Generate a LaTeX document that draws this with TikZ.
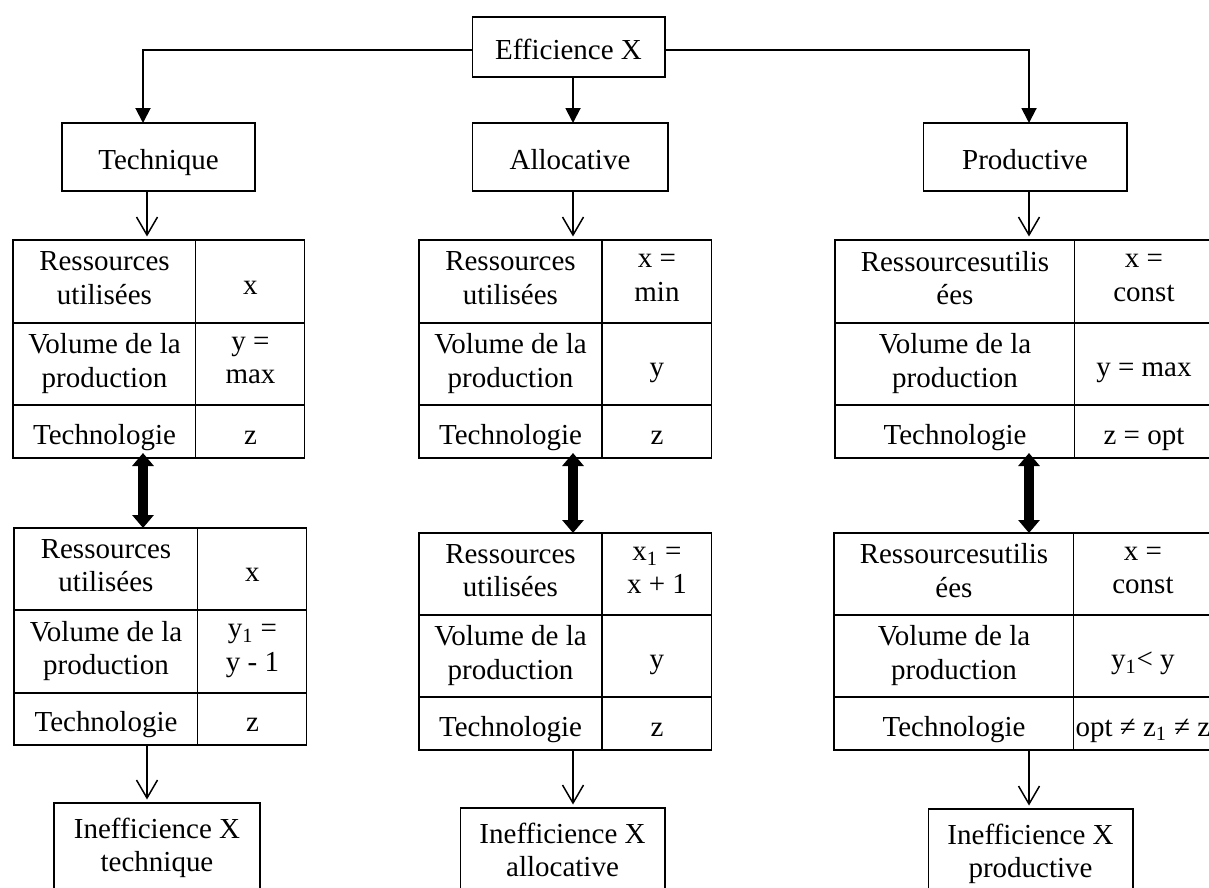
\documentclass[tikz,border=0pt]{standalone}
\usepackage{fontspec}
\setmainfont{Liberation Serif}
\usetikzlibrary{arrows.meta}

\begin{document}
\begin{tikzpicture}[x=0.02cm, y=-0.02cm,
    box/.style={draw, line width=0.6pt, inner sep=0pt, outer sep=0pt, align=center,
      font=\fontsize{16.5}{19}\selectfont,
      execute at begin node={\rule{0pt}{18.5pt}}, execute at end node={\rule[-4pt]{0pt}{4pt}}},
    cell/.style={box, anchor=north west},
    link/.style={line width=1.1pt, -{Triangle[width=0.3cm,length=0.3cm]}},
    lead/.style={line width=0.85pt, shorten >=0.07cm, -{Straight Barb[width=0.42cm,length=0.36cm]}},
    twoway/.style={line width=0.2cm, shorten <=-0.1cm,
      {Triangle[width=0.42cm,length=0.26cm]}-{Triangle[width=0.42cm,length=0.26cm]}}]

  \useasboundingbox (0,0) rectangle (1209,888);
  \clip (0,0) rectangle (1209,888);

  \node[box, minimum width=3.86cm, minimum height=1.2cm] (eff) at (568.5,47) {Efficience X};
  \node[box, minimum width=3.86cm, minimum height=1.36cm] (tech) at (158.5,157) {Technique};
  \node[box, minimum width=3.92cm, minimum height=1.36cm] (alloc) at (570,157) {Allocative};
  \node[box, minimum width=4.08cm, minimum height=1.36cm] (prod) at (1025,157) {Productive};

  % efficient tables
  \foreach \r/\y/\h/\l/\v in {1/240/83/{Ressources\\utilisées}/x, 2/323/82/{Volume de la\\production}/{y =\\max}, 3/405/53/Technologie/z}
  {
    \node[cell, minimum width=3.66cm, minimum height=\h*0.02cm] (tech-l\r) at (13,\y) {\l};
    \node[cell, minimum width=2.18cm, minimum height=\h*0.02cm] (tech-r\r) at (tech-l\r.north east) {\v};
  }
  \foreach \r/\y/\h/\l/\v in {1/240/83/{Ressources\\utilisées}/{x =\\min}, 2/323/82/{Volume de la\\production}/y, 3/405/53/Technologie/z}
  {
    \node[cell, minimum width=3.66cm, minimum height=\h*0.02cm] (alloc-l\r) at (419,\y) {\l};
    \node[cell, minimum width=2.2cm, minimum height=\h*0.02cm] (alloc-r\r) at (alloc-l\r.north east) {\v};
  }
  \foreach \r/\y/\h/\l/\v in {1/240/83/{Ressourcesutilis\\ées}/{x =\\const}, 2/323/82/{Volume de la\\production}/{y = max}, 3/405/53/Technologie/{z = opt}}
  {
    \node[cell, minimum width=4.8cm, minimum height=\h*0.02cm] (prod-l\r) at (835,\y) {\l};
    \node[cell, minimum width=2.76cm, minimum height=\h*0.02cm] (prod-r\r) at (prod-l\r.north east) {\v};
  }

  % inefficient tables
  \foreach \r/\y/\h/\l/\v in {1/528/82/{Ressources\\utilisées}/x, 2/610/83/{Volume de la\\production}/{y\textsubscript{1} =\\y - 1}, 3/693/52/Technologie/z}
  {
    \node[cell, minimum width=3.68cm, minimum height=\h*0.02cm] (tech-bl\r) at (14,\y) {\l};
    \node[cell, minimum width=2.18cm, minimum height=\h*0.02cm] (tech-br\r) at (tech-bl\r.north east) {\v};
  }
  \foreach \r/\y/\h/\l/\v in {1/533/82/{Ressources\\utilisées}/{x\textsubscript{1} =\\x + 1}, 2/615/82/{Volume de la\\production}/y, 3/697/53/Technologie/z}
  {
    \node[cell, minimum width=3.66cm, minimum height=\h*0.02cm] (alloc-bl\r) at (419,\y) {\l};
    \node[cell, minimum width=2.2cm, minimum height=\h*0.02cm] (alloc-br\r) at (alloc-bl\r.north east) {\v};
  }
  \foreach \r/\y/\h/\l/\v in {1/533/82/{Ressourcesutilis\\ées}/{x =\\const}, 2/615/82/{Volume de la\\production}/{y\textsubscript{1}< y}, 3/697/53/Technologie/{opt ≠ z\textsubscript{1} ≠ z}}
  {
    \node[cell, minimum width=4.8cm, minimum height=\h*0.02cm] (prod-bl\r) at (834,\y) {\l};
    \node[cell, minimum width=2.76cm, minimum height=\h*0.02cm] (prod-br\r) at (prod-bl\r.north east) {\v};
  }

  \node[box, anchor=north, minimum width=4.12cm, minimum height=1.8cm] (tech-x) at (157,803) {Inefficience X\\technique};
  \node[box, anchor=north, minimum width=4.1cm, minimum height=1.8cm] (alloc-x) at (562.5,808) {Inefficience X\\allocative};
  \node[box, anchor=north, minimum width=4.1cm, minimum height=1.8cm] (prod-x) at (1030.5,809) {Inefficience X\\productive};

  % column axes
  \coordinate (axA) at (143,0);
  \coordinate (axB) at (147,0);
  \coordinate (axM) at (573,0);
  \coordinate (axR) at (1029,0);

  \draw[link] ([yshift=-0.06cm]eff.west) -| (axA |- tech.north);
  \draw[link] (axM |- eff.south) -- (axM |- alloc.north);
  \draw[link] ([yshift=-0.06cm]eff.east) -| (axR |- prod.north);

  \foreach \c/\a/\b in {tech/axA/axB, alloc/axM/axM, prod/axR/axR}
  {
    \draw[lead] (\b |- \c.south) -- (\b |- \c-l1.north);
    \draw[twoway] (\a |- \c-l3.south) -- (\a |- \c-bl1.north);
    \draw[lead] (\b |- \c-bl3.south) -- (\b |- \c-x.north);
  }
\end{tikzpicture}
\end{document}
